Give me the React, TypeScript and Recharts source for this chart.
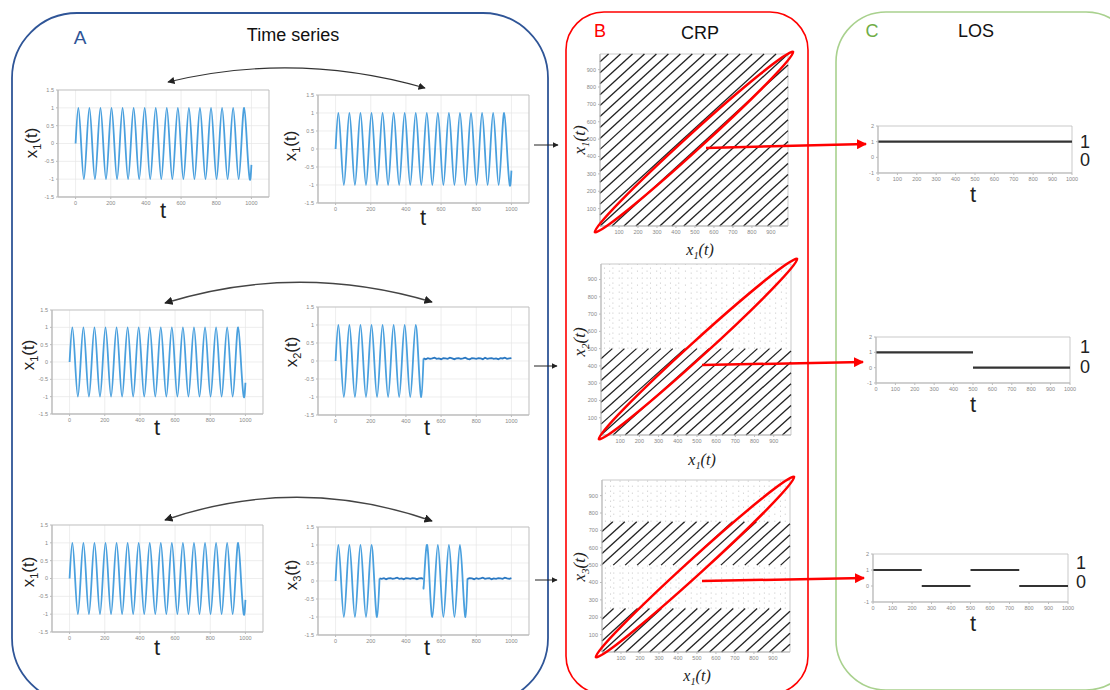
import React from 'react';
import { LineChart, Line, XAxis, YAxis, CartesianGrid, ReferenceArea } from 'recharts';

// quarter of one sine period (16 peaks over 1000 samples)
const QUARTER = 15.72;

const X1_VALUES = [
  0, 1, 0, -1, 0, 1, 0, -1, 0, 1, 0, -1, 0, 1, 0, -1,
  0, 1, 0, -1, 0, 1, 0, -1, 0, 1, 0, -1, 0, 1, 0, -1,
  0, 1, 0, -1, 0, 1, 0, -1, 0, 1, 0, -1, 0, 1, 0, -1,
  0, 1, 0, -1, 0, 1, 0, -1, 0, 1, 0, -1, 0, 1, 0, -1
];
const X1_END = -0.6;

const X2_VALUES = [
  0, 1, 0, -1, 0, 1, 0, -1, 0, 1, 0, -1, 0, 1, 0, -1,
  0, 1, 0, -1, 0, 1, 0, -1, 0, 1, 0, -1, 0, 1, 0, -1
];
const X2_NOISE = [
  0.07, 0.05, 0.08, 0.06, 0.07, 0.09, 0.06, 0.07, 0.05, 0.08,
  0.07, 0.06, 0.09, 0.07, 0.05, 0.07, 0.08, 0.06, 0.07, 0.09,
  0.06, 0.05, 0.08, 0.07, 0.06, 0.08, 0.07, 0.05, 0.09, 0.06,
  0.07, 0.08, 0.06, 0.07, 0.05, 0.08, 0.07, 0.09, 0.06, 0.07, 0.08
];

const X3_VALUES_A = [0, 1, 0, -1, 0, 1, 0, -1, 0, 1, 0, -1, 0, 1, 0, -1];
const X3_VALUES_B = [0, 1, 0, -1, 0, 1, 0, -1, 0, 1, 0, -1, 0, 1, 0, -1];
const X3_NOISE_A = [0.07, 0.06, 0.08, 0.05, 0.07, 0.08, 0.06, 0.07, 0.09, 0.06, 0.07, 0.05, 0.08, 0.07, 0.06, 0.08, 0.07, 0.05, 0.07, 0.08, 0.06];
const X3_NOISE_B = [0.06, 0.08, 0.07, 0.05, 0.08, 0.06, 0.07, 0.09, 0.06, 0.07, 0.08, 0.05, 0.07, 0.06, 0.08, 0.07, 0.06, 0.09, 0.07, 0.06, 0.08];

const TS_X_TICKS = [0, 200, 400, 600, 800, 1000];
const TS_Y_TICKS = [-1.5, -1, -0.5, 0, 0.5, 1, 1.5];

// CRP: recurrence lines y = x + offset (one per period)
const CRP_OFFSETS = [
  -945, -882, -819, -756, -693, -630, -567, -504, -441, -378, -315, -252, -189, -126, -63,
  0, 63, 126, 189, 252, 315, 378, 441, 504, 567, 630, 693, 756, 819, 882, 945
];
const NOISE_COLUMNS = [
  18, 45, 62, 95, 110, 140, 160, 190, 215, 240, 258, 290, 310, 335, 362, 390, 405, 440,
  470, 500, 520, 548, 575, 600, 630, 655, 690, 720, 745, 770, 800, 830, 855, 880, 910, 940, 965
];
const CRP_TICKS = [100, 200, 300, 400, 500, 600, 700, 800, 900];

const LOS_1 = [{ start: 0, end: 1000, v: 1 }];
const LOS_2 = [{ start: 0, end: 500, v: 1 }, { start: 500, end: 1000, v: 0 }];
const LOS_3 = [
  { start: 0, end: 250, v: 1 }, { start: 250, end: 500, v: 0 },
  { start: 500, end: 750, v: 1 }, { start: 750, end: 1000, v: 0 }
];
const LOS_X_TICKS = [0, 100, 200, 300, 400, 500, 600, 700, 800, 900, 1000];
const LOS_Y_TICKS = [-1, 0, 1, 2];

type Pt = { t: number; v: number | null };

const samples = (start: number, values: number[]): Pt[] =>
  values.map((v, i) => ({ t: +((start + i) * QUARTER).toFixed(2), v }));
const noise = (t0: number, step: number, values: number[]): Pt[] =>
  values.map((v, i) => ({ t: t0 + i * step, v }));

const X1_SERIES = [{ kind: 'wave', points: [...samples(0, X1_VALUES), { t: 1000, v: X1_END }] }];
const X2_SERIES = [
  { kind: 'wave', points: [...samples(0, X2_VALUES), { t: 500, v: 0.07 }] },
  { kind: 'noise', points: noise(500, 12.5, X2_NOISE) }
];
const X3_SERIES = [
  { kind: 'wave', points: [...samples(0, X3_VALUES_A), { t: 250, v: 0.07 }] },
  { kind: 'noise', points: noise(250, 12.5, X3_NOISE_A) },
  { kind: 'wave', points: [{ t: 500, v: -0.15 }, ...samples(32, X3_VALUES_B), { t: 750, v: 0.07 }] },
  { kind: 'noise', points: noise(750, 12.5, X3_NOISE_B) }
];

const SANS = '"Liberation Sans", Arial, sans-serif';
const SERIF = '"Liberation Serif", "DejaVu Serif", serif';
const TICK = { fontSize: 5.5, fill: '#888', fontFamily: SANS };

type Box = { x: number; y: number; w: number; h: number };

function Txt({ x, y, size, color = '#111', rotate = 0, font = SANS, italic = false, children }: any) {
  return (
    <div
      style={{
        position: 'absolute', left: x, top: y, fontSize: size, color, fontFamily: font,
        fontStyle: italic ? 'italic' : 'normal', lineHeight: 1, whiteSpace: 'nowrap',
        transform: `translate(-50%, -50%) rotate(${rotate}deg)`
      }}
    >
      {children}
    </div>
  );
}

const Sub = ({ n }: { n: number }) => <sub style={{ fontSize: '0.65em' }}>{n}</sub>;

function WavePlot({ box, series }: { box: Box; series: { kind: string; points: Pt[] }[] }) {
  const YW = 20, XH = 12, PAD = 4, RPAD = 8;
  return (
    <div style={{ position: 'absolute', left: box.x - YW, top: box.y - PAD }}>
      <LineChart width={box.w + YW + RPAD} height={box.h + XH + PAD} margin={{ top: PAD, right: RPAD, bottom: 0, left: 0 }}>
        <CartesianGrid stroke="#e6e6e6" strokeWidth={0.7} />
        <XAxis type="number" dataKey="t" domain={[-100, 1100]} ticks={TS_X_TICKS} interval={0}
          height={XH} tick={TICK} tickSize={2} axisLine={{ stroke: '#bbb' }} tickLine={{ stroke: '#bbb' }} />
        <YAxis type="number" domain={[-1.5, 1.5]} ticks={TS_Y_TICKS} interval={0}
          width={YW} tick={TICK} tickSize={2} axisLine={{ stroke: '#bbb' }} tickLine={{ stroke: '#bbb' }} />
        <ReferenceArea x1={-100} x2={1100} y1={-1.5} y2={1.5} fill="none" stroke="#bbb" strokeWidth={0.8} />
        {series.map((s, i) => (
          <Line key={i} data={s.points} dataKey="v" type={s.kind === 'wave' ? 'natural' : 'linear'}
            stroke={s.kind === 'wave' ? '#4aa0de' : '#2a78c2'} strokeWidth={s.kind === 'wave' ? 1.8 : 1.8}
            dot={false} isAnimationActive={false} />
        ))}
      </LineChart>
    </div>
  );
}

function CrpPlot({ box, lineBands, noiseBands }: { box: Box; lineBands: number[][]; noiseBands: number[][] }) {
  const YW = 18, XH = 10, PAD = 4, MAX = 990;
  const segs: { x: number; y: number }[][] = [];
  lineBands.forEach(([y0, y1]) => {
    CRP_OFFSETS.forEach((c) => {
      const xs = Math.max(0, y0 - c);
      const xe = Math.min(MAX, y1 - c);
      if (xe > xs) segs.push([{ x: xs, y: xs + c }, { x: xe, y: xe + c }]);
    });
  });
  const cols: { x: number; y: number }[][] = [];
  noiseBands.forEach(([y0, y1]) => {
    NOISE_COLUMNS.forEach((x) => cols.push([{ x, y: y0 }, { x, y: y1 }]));
  });
  return (
    <div style={{ position: 'absolute', left: box.x - YW, top: box.y - PAD }}>
      <LineChart width={box.w + YW + PAD} height={box.h + XH + PAD} margin={{ top: PAD, right: PAD, bottom: 0, left: 0 }}>
        <XAxis type="number" dataKey="x" domain={[0, MAX]} ticks={CRP_TICKS} interval={0}
          height={XH} tick={TICK} tickSize={2} axisLine={{ stroke: '#bbb' }} tickLine={{ stroke: '#bbb' }} />
        <YAxis type="number" domain={[0, MAX]} ticks={CRP_TICKS} interval={0}
          width={YW} tick={TICK} tickSize={2} axisLine={{ stroke: '#bbb' }} tickLine={{ stroke: '#bbb' }} />
        <ReferenceArea x1={0} x2={MAX} y1={0} y2={MAX} fill="none" stroke="#bbb" strokeWidth={0.8} />
        {cols.map((d, i) => (
          <Line key={'n' + i} data={d} dataKey="y" type="linear" stroke="#aaa" strokeWidth={0.7}
            strokeDasharray={i % 2 ? '1 6' : '1 4'} dot={false} isAnimationActive={false} />
        ))}
        {segs.map((d, i) => (
          <Line key={'s' + i} data={d} dataKey="y" type="linear" stroke="#222" strokeWidth={1.3}
            dot={false} isAnimationActive={false} />
        ))}
      </LineChart>
    </div>
  );
}

function LosPlot({ box, steps }: { box: Box; steps: { start: number; end: number; v: number }[] }) {
  const YW = 14, XH = 10, PAD = 4, RPAD = 10;
  const pts: Pt[] = [];
  steps.forEach((s, i) => {
    if (i > 0) pts.push({ t: s.start, v: null });
    pts.push({ t: s.start, v: s.v }, { t: s.end, v: s.v });
  });
  return (
    <div style={{ position: 'absolute', left: box.x - YW, top: box.y - PAD }}>
      <LineChart width={box.w + YW + RPAD} height={box.h + XH + PAD} margin={{ top: PAD, right: RPAD, bottom: 0, left: 0 }}>
        <XAxis type="number" dataKey="t" domain={[0, 1000]} ticks={LOS_X_TICKS} interval={0}
          height={XH} tick={TICK} tickSize={2} axisLine={{ stroke: '#bbb' }} tickLine={{ stroke: '#bbb' }} />
        <YAxis type="number" domain={[-1, 2]} ticks={LOS_Y_TICKS} interval={0}
          width={YW} tick={TICK} tickSize={2} axisLine={{ stroke: '#bbb' }} tickLine={{ stroke: '#bbb' }} />
        <ReferenceArea x1={0} x2={1000} y1={-1} y2={2} fill="none" stroke="#bbb" strokeWidth={0.8} />
        <Line data={pts} dataKey="v" type="linear" stroke="#333" strokeWidth={2.2}
          connectNulls={false} dot={false} isAnimationActive={false} />
      </LineChart>
    </div>
  );
}

const TS_PLOTS = [
  { box: { x: 58, y: 90, w: 211, h: 107 }, series: X1_SERIES, n: 1, lab: [33, 143], t: [163, 211] },
  { box: { x: 318, y: 95, w: 211, h: 108 }, series: X1_SERIES, n: 1, lab: [292, 146], t: [423, 218] },
  { box: { x: 52, y: 310, w: 211, h: 104 }, series: X1_SERIES, n: 1, lab: [30, 355], t: [157, 428] },
  { box: { x: 318, y: 307, w: 211, h: 108 }, series: X2_SERIES, n: 2, lab: [293, 352], t: [427, 428] },
  { box: { x: 52, y: 525, w: 211, h: 107 }, series: X1_SERIES, n: 1, lab: [30, 572], t: [157, 648] },
  { box: { x: 318, y: 527, w: 211, h: 108 }, series: X3_SERIES, n: 3, lab: [293, 575], t: [427, 648] }
];

const CRP_PLOTS = [
  { box: { x: 600, y: 54, w: 188, h: 172 }, lines: [[0, 990]], noise: [], n: 1, lab: [581, 140], xl: [700, 252] },
  { box: { x: 601, y: 264, w: 190, h: 171 }, lines: [[0, 500]], noise: [[500, 990]], n: 2, lab: [581, 342], xl: [702, 462] },
  { box: { x: 602, y: 480, w: 188, h: 172 }, lines: [[0, 250], [500, 750]], noise: [[250, 500], [750, 990]], n: 3, lab: [581, 567], xl: [697, 678] }
];

const LOS_PLOTS = [
  { box: { x: 878, y: 126, w: 194, h: 47 }, steps: LOS_1, t: [973, 195], one: [1085, 142], zero: [1085, 160] },
  { box: { x: 876, y: 337, w: 194, h: 46 }, steps: LOS_2, t: [973, 405], one: [1085, 347], zero: [1085, 367] },
  { box: { x: 873, y: 554, w: 195, h: 48 }, steps: LOS_3, t: [973, 624], one: [1081, 563], zero: [1081, 582] }
];

export default function App() {
  return (
    <div style={{ position: 'absolute', left: 0, top: 0, width: 1110, height: 690, overflow: 'hidden', background: '#fff' }}>
      <svg width={1110} height={690} style={{ position: 'absolute', left: 0, top: 0 }}>
        <rect x={12} y={13} width={536} height={690} rx={65} fill="none" stroke="#2f5597" strokeWidth={1.8} />
        <rect x={566} y={12} width={242} height={682} rx={38} fill="none" stroke="#ff0000" strokeWidth={1.6} />
        <rect x={836} y={12} width={300} height={678} rx={50} fill="none" stroke="#a9d18e" strokeWidth={1.6} />
      </svg>

      <Txt x={80} y={37} size={19} color="#2f5597">A</Txt>
      <Txt x={293} y={35} size={18}>Time series</Txt>
      <Txt x={600} y={31} size={18} color="#ff0000">B</Txt>
      <Txt x={700} y={33} size={18}>CRP</Txt>
      <Txt x={872} y={31} size={18} color="#70ad47">C</Txt>
      <Txt x={976} y={31} size={18}>LOS</Txt>

      {TS_PLOTS.map((p, i) => (
        <React.Fragment key={'ts' + i}>
          <WavePlot box={p.box} series={p.series} />
          <Txt x={p.lab[0]} y={p.lab[1]} size={17} rotate={-90} color="#222">x<Sub n={p.n} />(t)</Txt>
          <Txt x={p.t[0]} y={p.t[1]} size={22} color="#222">t</Txt>
        </React.Fragment>
      ))}

      {CRP_PLOTS.map((p, i) => (
        <React.Fragment key={'crp' + i}>
          <CrpPlot box={p.box} lineBands={p.lines} noiseBands={p.noise} />
          <Txt x={p.lab[0]} y={p.lab[1]} size={17} rotate={-90} font={SERIF} italic color="#222">x<Sub n={p.n} />(t)</Txt>
          <Txt x={p.xl[0]} y={p.xl[1]} size={16} font={SERIF} italic color="#222">x<Sub n={1} />(t)</Txt>
        </React.Fragment>
      ))}

      {LOS_PLOTS.map((p, i) => (
        <React.Fragment key={'los' + i}>
          <LosPlot box={p.box} steps={p.steps} />
          <Txt x={p.t[0]} y={p.t[1]} size={22} color="#222">t</Txt>
          <Txt x={p.one[0]} y={p.one[1]} size={18} color="#222">1</Txt>
          <Txt x={p.zero[0]} y={p.zero[1]} size={18} color="#222">0</Txt>
        </React.Fragment>
      ))}

      <svg width={1110} height={690} style={{ position: 'absolute', left: 0, top: 0, pointerEvents: 'none' }}>
        <defs>
          <marker id="blk" viewBox="0 0 10 10" refX="9" refY="5" markerWidth="6" markerHeight="6" orient="auto-start-reverse">
            <path d="M0,0 L10,5 L0,10 z" fill="#222" />
          </marker>
          <marker id="red" viewBox="0 0 10 10" refX="9" refY="5" markerWidth="4" markerHeight="4" orient="auto">
            <path d="M0,0 L10,5 L0,10 z" fill="#ff0000" />
          </marker>
        </defs>
        <path d="M168 82 Q296 51 425 88" fill="none" stroke="#333" strokeWidth={1.2} markerStart="url(#blk)" markerEnd="url(#blk)" />
        <path d="M165 303 Q298 262 432 302" fill="none" stroke="#444" strokeWidth={1.4} markerStart="url(#blk)" markerEnd="url(#blk)" />
        <path d="M165 520 Q298 474 432 521" fill="none" stroke="#444" strokeWidth={1.4} markerStart="url(#blk)" markerEnd="url(#blk)" />
        <line x1={534} y1={145} x2={558} y2={145} stroke="#222" strokeWidth={1} markerEnd="url(#blk)" />
        <line x1={534} y1={366} x2={557} y2={366} stroke="#222" strokeWidth={1} markerEnd="url(#blk)" />
        <line x1={535} y1={580} x2={557} y2={580} stroke="#222" strokeWidth={1} markerEnd="url(#blk)" />
        <ellipse cx={694} cy={142} rx={134} ry={8} transform="rotate(-42.3 694 142)" fill="none" stroke="#ff0000" strokeWidth={2.5} />
        <ellipse cx={698} cy={349} rx={134} ry={8} transform="rotate(-42.3 698 349)" fill="none" stroke="#ff0000" strokeWidth={2.5} />
        <ellipse cx={695} cy={567} rx={134} ry={8} transform="rotate(-42.3 695 567)" fill="none" stroke="#ff0000" strokeWidth={2.5} />
        <line x1={706} y1={148} x2={866} y2={144} stroke="#ff0000" strokeWidth={2.5} markerEnd="url(#red)" />
        <line x1={702} y1={365} x2={863} y2={362} stroke="#ff0000" strokeWidth={2.5} markerEnd="url(#red)" />
        <line x1={702} y1={581} x2={864} y2={578} stroke="#ff0000" strokeWidth={2.5} markerEnd="url(#red)" />
      </svg>
    </div>
  );
}
